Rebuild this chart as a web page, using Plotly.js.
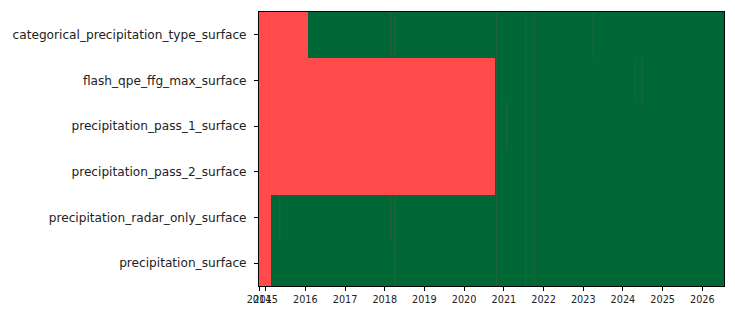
<!DOCTYPE html>
<html>
<head>
<meta charset="utf-8">
<script src="https://cdn.plot.ly/plotly-3.0.1.min.js"></script>
<style>html,body{margin:0;padding:0;background:#fff;}#chart{width:735px;height:318px;}</style>
</head>
<body>
<div id="chart"></div>
<script>
// ---- data ----
const variables = [
  'categorical_precipitation_type_surface',
  'flash_qpe_ffg_max_surface',
  'precipitation_pass_1_surface',
  'precipitation_pass_2_surface',
  'precipitation_radar_only_surface',
  'precipitation_surface'
];
const periodStart = '2014-11-01';
const periodEnd = '2026-07-19';
// first date each variable becomes available (before: missing)
const firstAvailable = ['2016-01-22', '2020-10-12', '2020-10-12', '2020-10-12', '2015-02-15', '2015-02-15'];
// isolated missing days after availability starts
const missingCategorical = ['2018-02-24', '2018-04-04', '2020-10-26', '2021-07-20', '2021-10-07', '2023-04-02'];
const missingFlash = ['2020-10-26', '2021-07-20', '2021-10-07', '2024-04-26', '2024-06-25'];
const missingPass1 = ['2020-10-26', '2021-01-26', '2021-07-20', '2021-10-07'];
const missingPass2 = ['2020-10-26', '2021-07-20', '2021-10-07'];
const missingRadarOnly = ['2015-05-11', '2018-02-24', '2018-04-04', '2020-10-26', '2021-07-20', '2021-10-07'];
const missingPrecip = ['2018-04-04', '2020-10-26', '2021-07-20', '2021-10-07'];
const tickVals = ['2014-11-01', '2015-01-01', '2016-01-01', '2017-01-01', '2018-01-01', '2019-01-01', '2020-01-01',
                  '2021-01-01', '2022-01-01', '2023-01-01', '2024-01-01', '2025-01-01', '2026-01-01'];
const tickText = ['2014', '2015', '2016', '2017', '2018', '2019', '2020', '2021', '2022', '2023', '2024', '2025', '2026'];

// ---- build heatmap grid from the data ----
const missingByVar = [missingCategorical, missingFlash, missingPass1, missingPass2, missingRadarOnly, missingPrecip];
function nextDay(d) {
  const t = new Date(d + 'T00:00:00Z');
  t.setUTCDate(t.getUTCDate() + 1);
  return t.toISOString().slice(0, 10);
}
const edgeSet = new Set([periodStart, periodEnd]);
firstAvailable.forEach(d => edgeSet.add(d));
missingByVar.forEach(list => list.forEach(d => { edgeSet.add(d); edgeSet.add(nextDay(d)); }));
const edges = Array.from(edgeSet).sort();
const rowIdx = variables.map((v, i) => i);
const z = variables.map((v, r) => {
  const miss = new Set(missingByVar[r]);
  const row = [];
  for (let i = 0; i < edges.length - 1; i++) {
    const d = edges[i];
    row.push(d >= firstAvailable[r] && !miss.has(d) ? 1 : 0);
  }
  return row;
});

const heat = {
  type: 'heatmap',
  x: edges,
  y: rowIdx,
  z: z,
  zmin: 0, zmax: 1,
  colorscale: [[0, '#ff4b4b'], [0.5, '#ff4b4b'], [0.5, '#006837'], [1, '#006837']],
  showscale: false,
  hoverinfo: 'skip'
};

// single missing days are narrower than a pixel: drawn as faint day-lines
const gx = [], gy = [];
missingByVar.forEach((list, r) => list.forEach(d => {
  gx.push(d + ' 12:00', d + ' 12:00', null);
  gy.push(r - 0.5, r + 0.5, null);
}));
const gaps = {
  type: 'scatter', mode: 'lines',
  x: gx, y: gy,
  line: {color: 'rgba(255,75,75,0.16)', width: 1},
  hoverinfo: 'skip', connectgaps: false
};

const layout = {
  width: 735, height: 318,
  margin: {l: 258.5, r: 10.5, t: 12, b: 32, pad: 0},
  paper_bgcolor: '#fff', plot_bgcolor: '#fff',
  font: {family: 'DejaVu Sans', color: '#000'},
  showlegend: false,
  xaxis: {
    type: 'date',
    range: [periodStart, periodEnd],
    tickvals: tickVals, ticktext: tickText, tickangle: 0,
    tickfont: {size: 9.7, color: '#222'},
    ticks: 'outside', ticklen: 4, tickcolor: '#000', tickwidth: 1,
    showline: true, linecolor: '#000', linewidth: 1, mirror: true,
    showgrid: false, zeroline: false
  },
  yaxis: {
    type: 'linear',
    range: [5.5, -0.5],
    tickvals: rowIdx, ticktext: variables,
    tickfont: {size: 12.15, color: '#222'},
    ticks: 'outside', ticklen: 4, tickcolor: '#000', tickwidth: 1,
    ticklabelstandoff: 5,
    showline: true, linecolor: '#000', linewidth: 1, mirror: true,
    showgrid: false, zeroline: false
  }
};

Plotly.newPlot('chart', [heat, gaps], layout, {staticPlot: true, displayModeBar: false});
</script>
</body>
</html>
